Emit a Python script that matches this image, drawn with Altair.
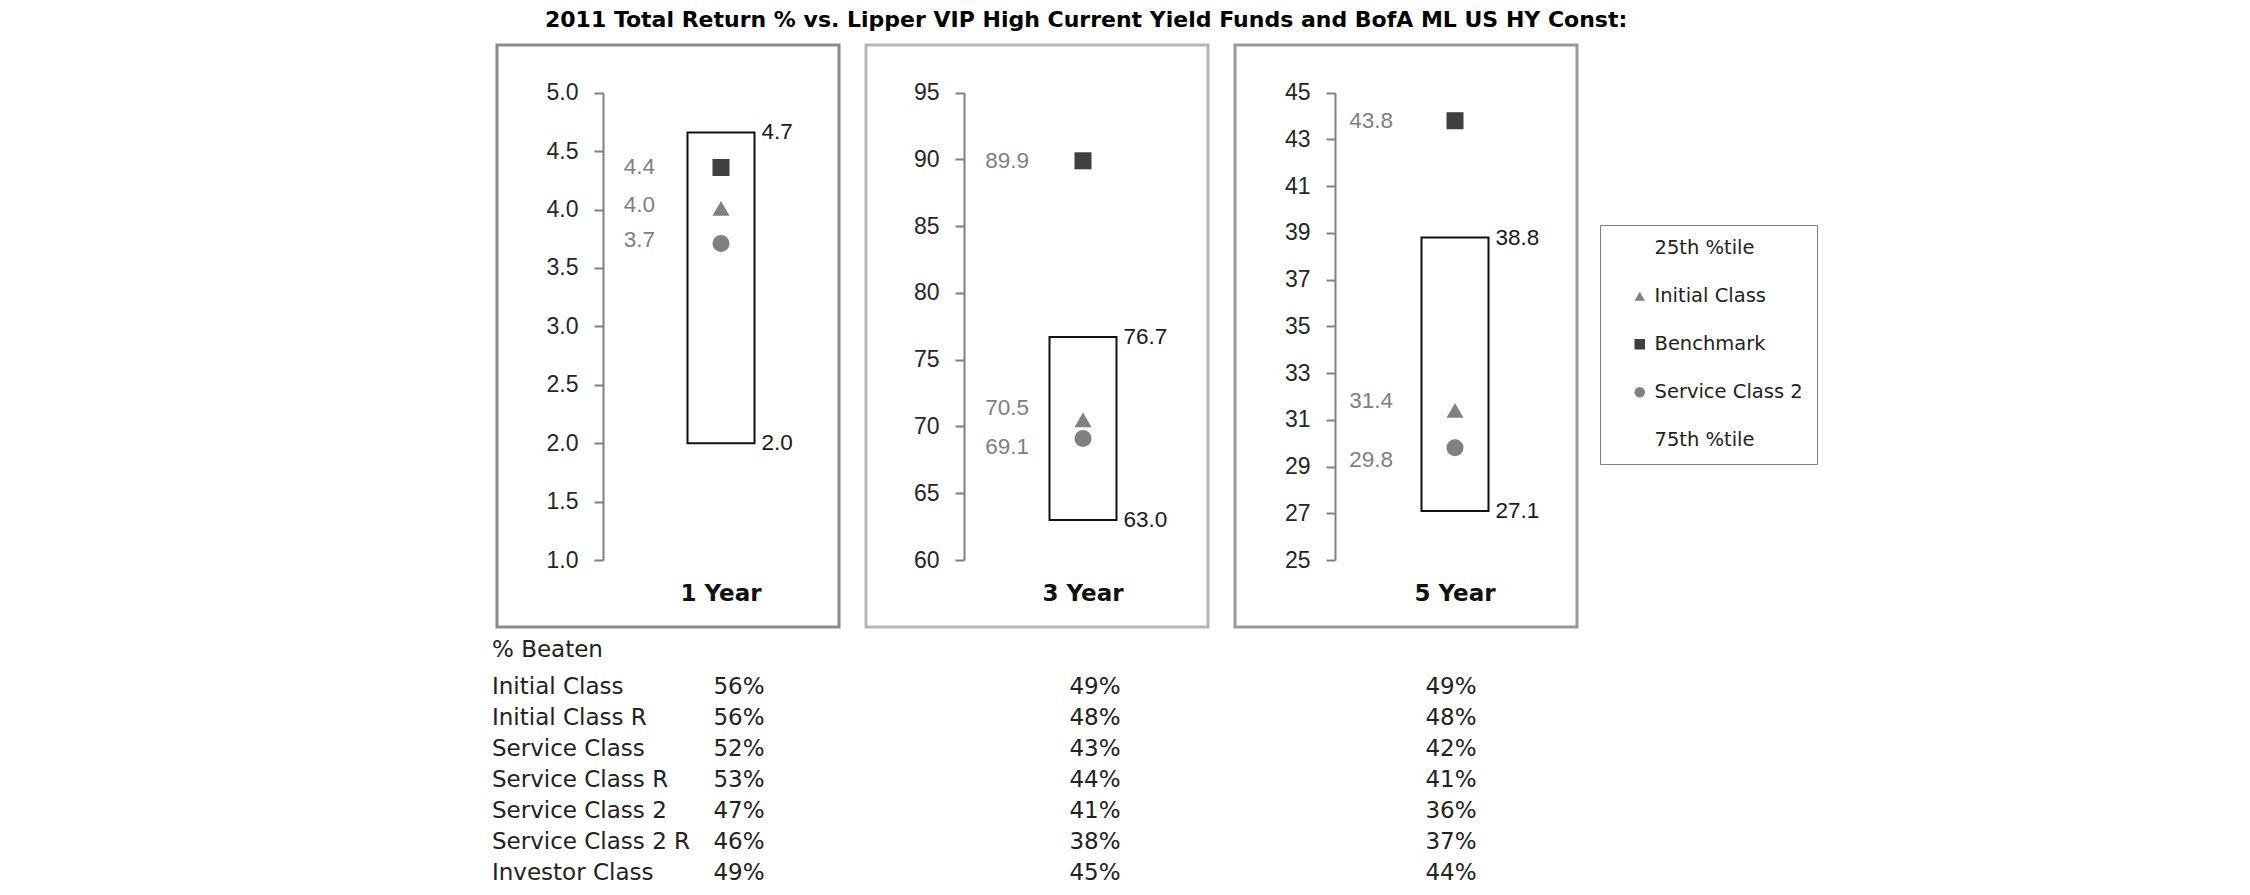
import altair as alt
import pandas as pd

# ---------------- data ----------------
periods = ["1 Year", "3 Year", "5 Year"]
pct_25th = [4.66, 76.7, 38.8]        # top of box
pct_75th = [2.0, 63.0, 27.1]         # bottom of box
initial_class = [4.01, 70.5, 31.4]
benchmark = [4.36, 89.9, 43.8]
service_class_2 = [3.71, 69.1, 29.8]

tick_values = [
    [1.0, 1.5, 2.0, 2.5, 3.0, 3.5, 4.0, 4.5, 5.0],
    [60, 65, 70, 75, 80, 85, 90, 95],
    [25, 27, 29, 31, 33, 35, 37, 39, 41, 43, 45],
]
tick_formats = [".1f", "d", "d"]

series_names = ["25th %tile", "Initial Class", "Benchmark", "Service Class 2", "75th %tile"]

table_rows = ["Initial Class", "Initial Class R", "Service Class", "Service Class R",
              "Service Class 2", "Service Class 2 R", "Investor Class"]
beaten_1y = [56, 56, 52, 53, 47, 46, 49]
beaten_3y = [49, 48, 43, 44, 41, 38, 45]
beaten_5y = [49, 48, 42, 41, 36, 37, 44]

title_text = "2011 Total Return % vs. Lipper VIP High Current Yield Funds and BofA ML US HY Const:"

# ---------------- style ----------------
PANEL_W, PANEL_H = 342, 582
Y_RANGE = [515, 47.7]
BOX_W = 67
box_centers = [224, 217, 220]
axis_offsets = [106, 98, 100]
left_label_dx = [-66, -54, -62]
panel_strokes = ["#8a8a8a", "#b5b5b5", "#9a9a9a"]
label_nudge = {
    0: {"Benchmark": 0, "Initial Class": -3, "Service Class 2": -3},
    1: {"Benchmark": 0, "Initial Class": -12, "Service Class 2": 8},
    2: {"Benchmark": 0, "Initial Class": -9, "Service Class 2": 12},
}
SANS = "Liberation Sans"
VERD = "DejaVu Sans"

shape_scale = alt.Scale(domain=series_names,
                        range=["square", "triangle-up", "square", "circle", "square"])
color_scale = alt.Scale(domain=series_names,
                        range=["transparent", "#808080", "#404040", "#808080", "transparent"])
legend = alt.Legend(
    title=None, orient="none", legendX=1103, legendY=180,
    strokeColor="#7f7f7f", fillColor="white", padding=13.5,
    rowPadding=27, symbolSize=110, symbolOffset=16.5, labelOffset=5,
    labelFont=VERD, labelFontSize=19.5, labelColor="#222222", symbolStrokeWidth=0,
)


def panel(i):
    period = periods[i]
    ticks = tick_values[i]
    c = box_centers[i]
    xscale = alt.Scale(domain=[period], range=[c - BOX_W / 2, c + BOX_W / 2],
                       paddingInner=0, paddingOuter=0)
    yscale = alt.Scale(domain=[ticks[0], ticks[-1]], range=Y_RANGE, nice=False, zero=False)
    xaxis = alt.Axis(orient="bottom", offset=-34, domain=False, ticks=False, tickSize=0,
                     labelPadding=0, labelBaseline="middle", labelAngle=0, labelFont=VERD,
                     labelFontSize=23, labelFontWeight="bold", labelColor="#111111",
                     title=None, grid=False)
    yaxis = alt.Axis(values=ticks, format=tick_formats[i], offset=-axis_offsets[i],
                     grid=False, title=None, domainColor="#808080", domainWidth=2,
                     tickColor="#808080", tickWidth=2, tickSize=9, labelPadding=16,
                     labelFont=SANS, labelFontSize=23, labelColor="#262626")
    X = alt.X("period:N", scale=xscale, axis=xaxis)

    box_df = pd.DataFrame({"period": [period], "high": [pct_25th[i]], "low": [pct_75th[i]]})
    box_lbl = pd.DataFrame({"period": [period, period], "value": [pct_25th[i], pct_75th[i]]})
    pts = pd.DataFrame({
        "period": [period] * 3,
        "series": ["Benchmark", "Initial Class", "Service Class 2"],
        "value": [benchmark[i], initial_class[i], service_class_2[i]],
    })

    box = alt.Chart(box_df).mark_bar(fill="white", stroke="#111111", strokeWidth=2).encode(
        x=X, y=alt.Y("high:Q", scale=yscale, axis=yaxis), y2="low:Q")
    box_text = alt.Chart(box_lbl).mark_text(
        align="left", baseline="middle", dx=BOX_W / 2 + 7, font=SANS, fontSize=22.5,
        color="#1a1a1a").encode(
        x=X, y=alt.Y("value:Q", scale=yscale, axis=yaxis),
        text=alt.Text("value:Q", format=".1f"))
    points = alt.Chart(pts).mark_point(filled=True, opacity=1, size=290).encode(
        x=X, y=alt.Y("value:Q", scale=yscale, axis=yaxis),
        shape=alt.Shape("series:N", scale=shape_scale, legend=legend),
        color=alt.Color("series:N", scale=color_scale, legend=legend))
    layers = [box, box_text, points]
    for s in ["Benchmark", "Initial Class", "Service Class 2"]:
        layers.append(
            alt.Chart(pts).transform_filter(alt.datum.series == s).mark_text(
                align="right", baseline="middle", dx=left_label_dx[i], dy=label_nudge[i][s],
                font=SANS, fontSize=22.5, color="#7f7f7f").encode(
                x=X, y=alt.Y("value:Q", scale=yscale, axis=yaxis),
                text=alt.Text("value:Q", format=".1f")))
    return alt.layer(*layers).properties(
        width=PANEL_W, height=PANEL_H,
        view=alt.ViewBackground(stroke=panel_strokes[i], strokeWidth=3))


panels = alt.hconcat(*[panel(i) for i in range(3)], spacing=27, bounds="flush")

# ---------------- table ----------------
rows, cols, vals = [], [], []
for r, a, b, d in zip(table_rows, beaten_1y, beaten_3y, beaten_5y):
    for p, v in zip(periods, [a, b, d]):
        rows.append(r)
        cols.append(p)
        vals.append(v)
tbl = pd.DataFrame({"row": rows, "period": cols, "pct": vals})
lbl = pd.DataFrame({"row": table_rows})

ty = alt.Y("row:N", sort=table_rows,
           scale=alt.Scale(type="point", domain=table_rows, padding=0.5), axis=None)
tbl_values = alt.Chart(tbl).transform_calculate(txt="datum.pct + '%'").mark_text(
    align="center", baseline="middle", font=VERD, fontSize=23, color="#222222").encode(
    x=alt.X("period:N", scale=alt.Scale(type="point", domain=periods, range=[242, 954], padding=0),
            axis=None),
    y=ty, text="txt:N")
tbl_labels = alt.Chart(lbl).mark_text(
    align="left", baseline="middle", font=VERD, fontSize=23, color="#222222").encode(
    x=alt.value(-5), y=ty, text="row:N")
table = alt.layer(tbl_labels, tbl_values).properties(
    width=1000, height=216,
    view=alt.ViewBackground(strokeWidth=0),
    title=alt.TitleParams("% Beaten", anchor="start", frame="group", dx=-5, offset=10,
                          font=VERD, fontSize=23, fontWeight="normal", color="#222222"))

chart = alt.vconcat(panels, table, spacing=10).properties(
    title=alt.TitleParams(title_text, anchor="start", frame="group", dx=48, offset=12,
                          font=VERD, fontSize=22, fontWeight="bold", color="#000000"),
    padding={"left": 492, "top": 8, "right": 20, "bottom": 10},
).configure_view(stroke=None).configure_legend(strokeWidth=2).configure(background="white")

chart.save("out.html", embed_options={"renderer": "svg", "actions": False})
